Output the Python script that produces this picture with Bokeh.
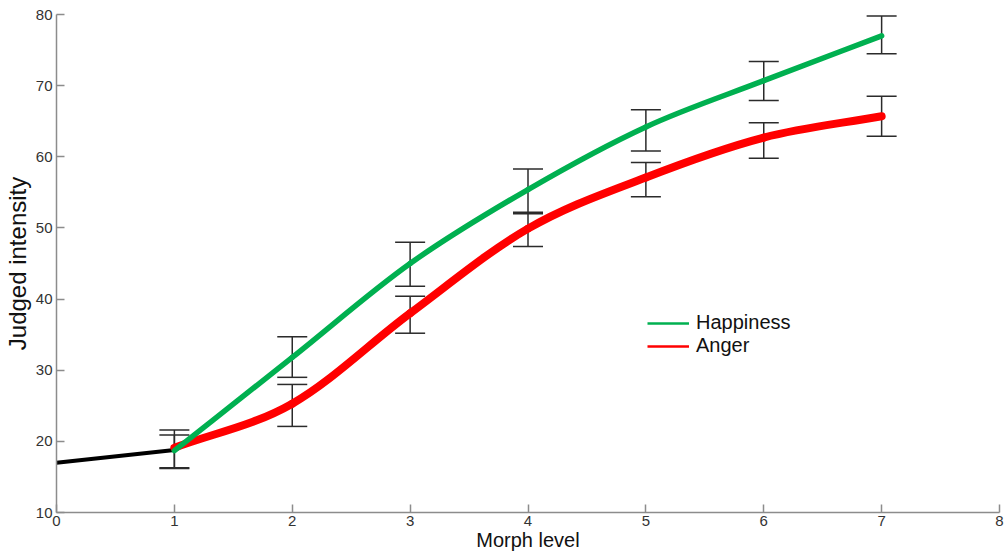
from bokeh.plotting import figure
from bokeh.models import (ColumnDataSource, Whisker, TeeHead, FixedTicker,
                          Legend, LegendItem)
from bokeh.embed import file_html
from bokeh.resources import INLINE

# ---- data ----
levels = [1, 2, 3, 4, 5, 6, 7]
happiness = [18.7, 31.8, 45.0, 55.4, 64.2, 70.7, 77.0]
anger = [19.1, 25.3, 38.0, 49.9, 57.1, 62.7, 65.7]
happiness_lo = [16.2, 29.0, 41.8, 52.2, 60.8, 67.9, 74.5]
happiness_hi = [20.9, 34.7, 48.0, 58.3, 66.6, 73.4, 79.8]
anger_lo = [16.3, 22.1, 35.2, 47.4, 54.4, 59.8, 62.9]
anger_hi = [21.6, 28.0, 40.4, 52.0, 59.2, 64.8, 68.5]
neutral_x = [0, 1]
neutral_y = [17.0, 18.8]
x_ticks = [0, 1, 2, 3, 4, 5, 6, 7, 8]
y_ticks = [10, 20, 30, 40, 50, 60, 70, 80]

FONT = "Liberation Sans"


def bezier_source(xs, ys):
    """Catmull-Rom style cubic Bezier segments through the data points."""
    n = len(xs)
    m = []
    for i in range(n):
        if i == 0:
            m.append((ys[1] - ys[0]) / (xs[1] - xs[0]))
        elif i == n - 1:
            m.append((ys[-1] - ys[-2]) / (xs[-1] - xs[-2]))
        else:
            m.append((ys[i + 1] - ys[i - 1]) / (xs[i + 1] - xs[i - 1]))
    d = dict(x0=[], y0=[], x1=[], y1=[], cx0=[], cy0=[], cx1=[], cy1=[])
    for i in range(n - 1):
        dx = xs[i + 1] - xs[i]
        d["x0"].append(xs[i]); d["y0"].append(ys[i])
        d["x1"].append(xs[i + 1]); d["y1"].append(ys[i + 1])
        d["cx0"].append(xs[i] + dx / 3); d["cy0"].append(ys[i] + m[i] * dx / 3)
        d["cx1"].append(xs[i + 1] - dx / 3); d["cy1"].append(ys[i + 1] - m[i + 1] * dx / 3)
    return ColumnDataSource(d)


p = figure(width=1004, height=556, x_range=(0, 8), y_range=(10, 80),
           output_backend="svg", toolbar_location=None,
           min_border_left=55, min_border_right=5,
           min_border_top=14, min_border_bottom=44)
p.outline_line_color = None
p.xgrid.visible = False
p.ygrid.visible = False
p.background_fill_color = "white"

# axes
for ax in (p.xaxis[0], p.yaxis[0]):
    ax.axis_line_color = "#8c8c8c"
    ax.axis_line_width = 1.5
    ax.major_tick_line_color = "#8c8c8c"
    ax.major_tick_line_width = 1.5
    ax.major_tick_in = 8
    ax.major_tick_out = 0
    ax.minor_tick_line_color = None
    ax.major_label_text_font = FONT
    ax.major_label_text_font_size = "15px"
    ax.major_label_text_color = "#333333"
    ax.axis_label_text_font = FONT
    ax.axis_label_text_font_style = "normal"
    ax.axis_label_text_color = "#111111"

p.xaxis.ticker = FixedTicker(ticks=x_ticks)
p.yaxis.ticker = FixedTicker(ticks=y_ticks)
p.xaxis.axis_label = "Morph level"
p.yaxis.axis_label = "Judged intensity"
p.xaxis.axis_label_text_font_size = "20px"
p.yaxis.axis_label_text_font_size = "24px"
p.xaxis.major_label_standoff = 3
p.yaxis.major_label_standoff = 4
p.xaxis.axis_label_standoff = 0
p.yaxis.axis_label_standoff = 2

# error bars
bar_col = "#2b2b2b"
for lo, hi in ((happiness_lo, happiness_hi), (anger_lo, anger_hi)):
    src = ColumnDataSource(dict(x=levels, lo=lo, hi=hi))
    w = Whisker(base="x", lower="lo", upper="hi", source=src,
                line_color=bar_col, line_width=1.5,
                upper_head=TeeHead(size=30, line_color=bar_col, line_width=1.5),
                lower_head=TeeHead(size=30, line_color=bar_col, line_width=1.5))
    p.add_layout(w)

# curves
p.line(neutral_x, neutral_y, line_color="black", line_width=4)
r_src = bezier_source(levels, anger)
p.bezier(x0="x0", y0="y0", x1="x1", y1="y1", cx0="cx0", cy0="cy0",
         cx1="cx1", cy1="cy1", source=r_src, line_color="#ff0000",
         line_width=8, line_cap="round")
g_src = bezier_source(levels, happiness)
p.bezier(x0="x0", y0="y0", x1="x1", y1="y1", cx0="cx0", cy0="cy0",
         cx1="cx1", cy1="cy1", source=g_src, line_color="#00b050",
         line_width=5.5, line_cap="round")

# legend sample lines (single-point lines draw nothing on the plot)
lg = p.line(x=levels[:1], y=happiness[:1], line_color="#00b050", line_width=2.5)
lr = p.line(x=levels[:1], y=anger[:1], line_color="#ff0000", line_width=2.5)
legend = Legend(items=[LegendItem(label="Happiness", renderers=[lg]),
                       LegendItem(label="Anger", renderers=[lr])],
                location=(591, 155), padding=0, margin=0, spacing=0,
                glyph_width=42, glyph_height=20, label_height=20,
                label_standoff=7, border_line_alpha=0,
                background_fill_alpha=0,
                label_text_font=FONT, label_text_font_size="20px",
                label_text_color="#111111")
p.add_layout(legend)

open("out.html", "w").write(file_html(p, INLINE))
